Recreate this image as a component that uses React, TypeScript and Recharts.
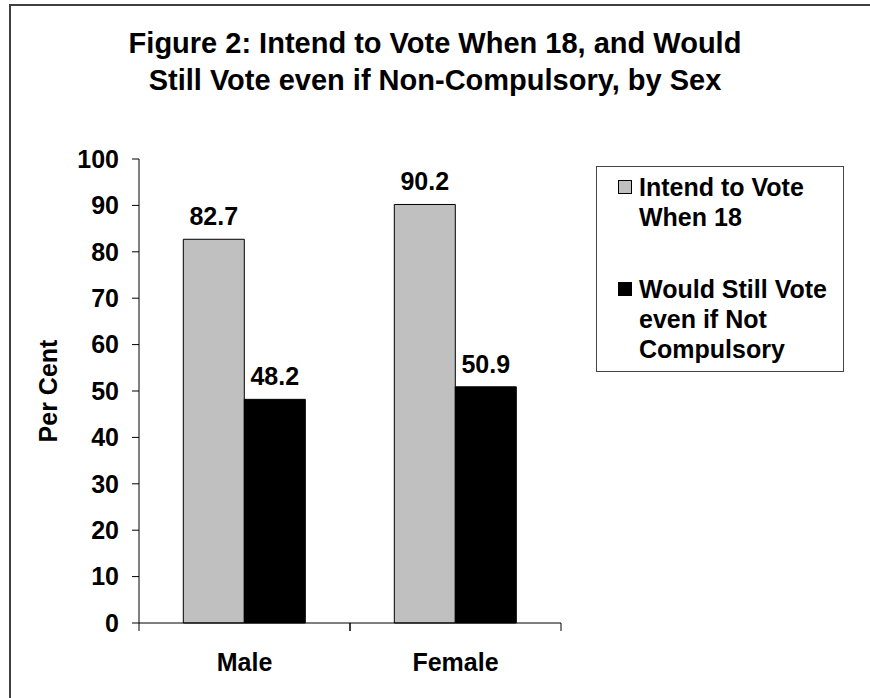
import { BarChart, Bar, XAxis, YAxis, LabelList, Legend } from 'recharts';

const FONT = '"Liberation Sans", Arial, Helvetica, sans-serif';

// data
const categories = ['Male', 'Female'];
const intendToVote = [82.7, 90.2];
const stillVote = [48.2, 50.9];
const yTicks = [0, 10, 20, 30, 40, 50, 60, 70, 80, 90, 100];
const seriesNames = ['Intend to Vote When 18', 'Would Still Vote even if Not Compulsory'];
const seriesColors = ['#C0C0C0', '#000000'];
const titleLines = [
  'Figure 2: Intend to Vote When 18, and Would',
  'Still Vote even if Non-Compulsory, by Sex',
];

const data = categories.map((sex, i) => ({
  sex,
  intend: intendToVote[i],
  still: stillVote[i],
}));

const textStyle = { fontFamily: FONT, fontSize: 25, fontWeight: 700, fill: '#000' };

// category label plus tick marks on the band edges (like Excel)
function SexTick(props: any) {
  const { x, y, payload } = props;
  const half = payload?.offset ?? 0;
  return (
    <g>
      {half > 0 && (
        <>
          <line x1={x - half} y1={y - 8} x2={x - half} y2={y} stroke="#000" />
          <line x1={x + half} y1={y - 8} x2={x + half} y2={y} stroke="#000" />
        </>
      )}
      <text x={x} y={y + 40} textAnchor="middle" style={textStyle}>
        {payload.value}
      </text>
    </g>
  );
}

function PerCentLabel(props: any) {
  const vb = props.viewBox || {};
  const bx = vb.x - 22;
  const cy = vb.y + vb.height / 2;
  return (
    <text x={bx} y={cy} textAnchor="middle" transform={`rotate(-90 ${bx} ${cy})`} style={textStyle}>
      Per Cent
    </text>
  );
}

function LegendBox(props: any) {
  const items = props.payload || [];
  return (
    <div
      style={{
        boxSizing: 'border-box',
        width: 248,
        height: 206,
        border: '1.5px solid #444',
        background: '#fff',
        padding: '5px 2px 0 21px',
        fontFamily: FONT,
        fontSize: 25,
        fontWeight: 700,
        lineHeight: '30px',
        color: '#000',
      }}
    >
      {items.map((item: any, i: number) => (
        <div key={item.value} style={{ display: 'flex', alignItems: 'flex-start', marginTop: i === 0 ? 0 : 42 }}>
          <div
            style={{
              width: 14,
              height: 14,
              marginTop: 8,
              marginRight: 7,
              boxSizing: 'border-box',
              background: item.color,
              border: '1px solid #000',
              flexShrink: 0,
            }}
          />
          <div style={{ width: 200 }}>{item.value}</div>
        </div>
      ))}
    </div>
  );
}

export default function App() {
  return (
    <div
      style={{
        position: 'absolute',
        left: 0,
        top: 0,
        width: 870,
        height: 698,
        overflow: 'hidden',
        background: '#fff',
      }}
    >
      <style>{'html, body { margin: 0; overflow: hidden; }'}</style>
      <div
        style={{
          position: 'absolute',
          left: 9,
          top: 4,
          width: 900,
          height: 720,
          borderTop: '2px solid #404040',
          borderLeft: '2px solid #404040',
        }}
      />
      <div
        style={{
          position: 'absolute',
          left: 0,
          top: 25,
          width: 870,
          textAlign: 'center',
          fontFamily: FONT,
          fontSize: 29,
          fontWeight: 700,
          lineHeight: '37px',
          color: '#000',
        }}
      >
        {titleLines.map((t) => (
          <div key={t}>{t}</div>
        ))}
      </div>
      <div style={{ position: 'absolute', left: 0, top: 0 }}>
        <BarChart
          width={870}
          height={698}
          data={data}
          margin={{ top: 159, right: 309, bottom: 25, left: 79 }}
          barCategoryGap="21%"
          barGap={0}
        >
          <XAxis
            dataKey="sex"
            stroke="#000"
            tickLine={false}
            tickSize={8}
            tickMargin={0}
            height={50}
            tick={<SexTick />}
            interval={0}
          />
          <YAxis
            domain={[0, 100]}
            ticks={yTicks}
            interval={0}
            width={60}
            stroke="#000"
            tickSize={7}
            tickMargin={13}
            tick={textStyle}
            label={<PerCentLabel />}
          />
          <Legend
            layout="vertical"
            align="center"
            verticalAlign="middle"
            content={<LegendBox />}
            wrapperStyle={{ left: 596, top: 166, width: 248, height: 206 }}
          />
          <Bar dataKey="intend" name={seriesNames[0]} fill={seriesColors[0]} stroke="#000" strokeWidth={1} isAnimationActive={false}>
            <LabelList dataKey="intend" position="top" offset={14} style={textStyle} />
          </Bar>
          <Bar dataKey="still" name={seriesNames[1]} fill={seriesColors[1]} stroke="#000" strokeWidth={1} isAnimationActive={false}>
            <LabelList dataKey="still" position="top" offset={14} style={textStyle} />
          </Bar>
        </BarChart>
      </div>
    </div>
  );
}
